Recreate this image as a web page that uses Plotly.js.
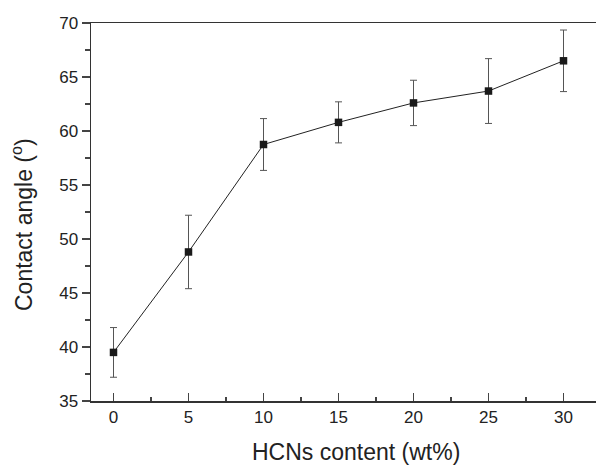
<!DOCTYPE html>
<html>
<head>
<meta charset="utf-8">
<script src="https://cdn.plot.ly/plotly-3.0.1.min.js"></script>
<style>html,body{margin:0;padding:0;overflow:hidden;background:#fff;}#chart{width:610px;height:467px;}</style>
</head>
<body>
<div id="chart"></div>
<script>
const hcnContent = [0, 5, 10, 15, 20, 25, 30];
const contactAngle = [39.5, 48.8, 58.75, 60.8, 62.6, 63.7, 66.5];
const angleError = [2.3, 3.4, 2.4, 1.9, 2.1, 3.0, 2.85];
const xTickVals = [0, 5, 10, 15, 20, 25, 30];
const yTickVals = [35, 40, 45, 50, 55, 60, 65, 70];

const font = 'Liberation Sans, Arial, sans-serif';

const trace = {
  x: hcnContent,
  y: contactAngle,
  type: 'scatter',
  mode: 'lines+markers',
  line: {color: '#222', width: 1},
  marker: {symbol: 'square', size: 7.5, color: '#1a1a1a'},
  error_y: {type: 'data', array: angleError, visible: true, color: '#555', thickness: 1, width: 3.5},
  showlegend: false,
  cliponaxis: false
};

const layout = {
  width: 610, height: 467,
  margin: {l: 91, r: 9, t: 23, b: 66},
  paper_bgcolor: '#fff', plot_bgcolor: '#fff',
  font: {family: font, color: '#222', size: 17},
  xaxis: {
    range: [-1.5, 32.5], tickvals: xTickVals, ticks: 'inside', ticklen: 8, tickwidth: 1.2, tickcolor: '#444',
    minor: {dtick: 2.5, tick0: 0, ticks: 'inside', ticklen: 4, tickwidth: 1.2, tickcolor: '#444'},
    showline: true, linecolor: '#333', linewidth: 1.5, mirror: true, showgrid: false, zeroline: false,
    tickfont: {family: font, size: 17, color: '#222'}
  },
  yaxis: {
    range: [35, 70], tickvals: yTickVals, ticks: 'outside', ticklen: 8, tickwidth: 1.2, tickcolor: '#444',
    minor: {dtick: 2.5, tick0: 35, ticks: 'outside', ticklen: 5, tickwidth: 1.2, tickcolor: '#444'},
    showline: true, linecolor: '#333', linewidth: 1.5, mirror: true, showgrid: false, zeroline: false,
    tickfont: {family: font, size: 17, color: '#222'}
  },
  annotations: [
    {text: 'HCNs content (wt%)', xref: 'paper', yref: 'paper', x: 0.52, y: -0.135, xanchor: 'center', yanchor: 'middle',
     showarrow: false, font: {family: font, size: 23, color: '#222'}},
    {text: 'Contact angle (<sup>o</sup>)', xref: 'paper', yref: 'paper', x: -0.135, y: 0.466, xanchor: 'center', yanchor: 'middle',
     textangle: -90, showarrow: false, font: {family: font, size: 23, color: '#222'}}
  ]
};

Plotly.newPlot('chart', [trace], layout, {displayModeBar: false, staticPlot: true});
</script>
</body>
</html>
